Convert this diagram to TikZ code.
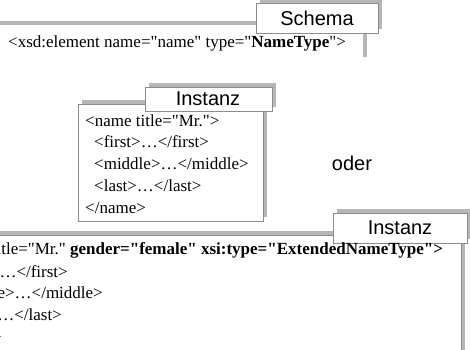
\documentclass[tikz,border=0pt]{standalone}
\usepackage{fontspec}
\newfontfamily\codefont{Liberation Serif}
\newfontfamily\labelfont{Liberation Sans}
\definecolor{shade}{RGB}{182,182,182}
\definecolor{edge}{RGB}{140,140,140}
\begin{document}
\begin{tikzpicture}[x=1pt,y=-1pt,
  frame/.style={draw=edge, line width=0.8pt, fill=white},
  shadowfill/.style={fill=shade},
  code/.style={anchor=west, inner sep=0pt, font=\codefont\fontsize{17}{20}\selectfont},
  codeend/.style={anchor=east, inner sep=0pt, font=\codefont\fontsize{17}{20}\selectfont},
  tag/.style={anchor=center, inner sep=0pt, font=\labelfont\fontsize{20}{24}\selectfont}]
\useasboundingbox (0,0) rectangle (470,349);
% Schema frame
\fill[shadowfill] (-6,21) rectangle (367,57);
\fill[white] (-10,25) rectangle (363,61);
\fill[shadowfill] (260,0) rectangle (382,29);
\draw[frame] (256,3) rectangle (378,33);
\node[tag] (schema) at (317,18) {Schema};
\node[code] (s1) at (8,43) {<xsd:element name="name" type="\textbf{NameType}">};
% middle frame
\fill[shadowfill] (82,100) rectangle (267,217);
\draw[frame] (78,104) rectangle (263,221);
\fill[shadowfill] (149,83) rectangle (276,107);
\draw[frame] (145,87) rectangle (272,111);
\node[tag] (inst1) at (208,99) {Instanz};
\node[code] (m1) at (85,121) {<name title="Mr.">};
\node[code] (m2) at (94,142) {<first>…</first>};
\node[code] (m3) at (94,164) {<middle>…</middle>};
\node[code] (m4) at (94,186) {<last>…</last>};
\node[code] (m5) at (85,208) {</name>};
\node[tag] (oder) at (352,163) {oder};
% bottom frame
\fill[shadowfill] (-6,231) rectangle (465,360);
\draw[frame] (-10,235) rectangle (461,364);
\fill[shadowfill] (337,209) rectangle (471,239);
\draw[frame] (333,213) rectangle (467,243);
\node[tag] (inst2) at (400,228) {Instanz};
\node[code] (b1) at (-59,250) {<name title="Mr." \textbf{gender="female" xsi:type="ExtendedNameType">}};
\node[codeend] (b2) at (68,272) {<first>…</first>};
\node[codeend] (b3) at (103,293) {<middle>…</middle>};
\node[codeend] (b4) at (62,315) {<last>…</last>};
\node[codeend] (b5) at (2,337) {</name>};
\end{tikzpicture}
\end{document}
